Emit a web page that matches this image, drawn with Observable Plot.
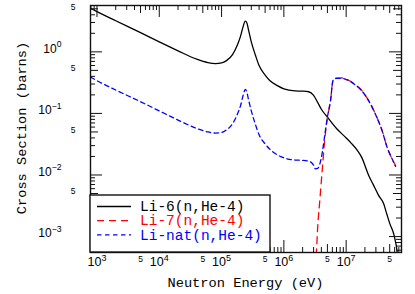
<!DOCTYPE html>
<html><head><meta charset="utf-8">
<script src="https://cdn.jsdelivr.net/npm/d3@7"></script>
<script src="https://cdn.jsdelivr.net/npm/@observablehq/plot@0.6"></script>
<style>
html,body{margin:0;padding:0;background:#fff;}
#chart{position:relative;width:415px;height:294px;overflow:hidden;}
</style></head><body><div id="chart"></div>
<script>
// ---- data ----
const li6Energy = [787, 1000, 2000, 5000, 1e4, 2e4, 4e4, 6e4, 8e4, 1e5, 1.2e5, 1.5e5, 1.8e5, 2e5, 2.2e5, 2.4e5, 2.55e5, 2.7e5, 3e5, 3.5e5, 4e5, 5e5, 6e5, 8e5, 1e6, 1.5e6, 2e6, 2.5e6, 3e6, 3.5e6, 4e6, 5e6, 7e6, 1e7, 1.2e7, 1.5e7, 1.8e7, 2e7, 2.3e7, 2.7e7, 3.3e7, 4e7, 4.5e7, 5e7, 5.8e7, 6.6e7, 7e7];
const li6Sigma  = [5.1, 4.5, 3.2, 2.05, 1.45, 1.04, 0.76, 0.67, 0.645, 0.66, 0.72, 0.9, 1.3, 1.75, 2.5, 3.15, 2.95, 2.3, 1.45, 0.88, 0.6, 0.42, 0.34, 0.28, 0.25, 0.232, 0.23, 0.225, 0.196, 0.15, 0.117, 0.087, 0.057, 0.04, 0.033, 0.0254, 0.0188, 0.0143, 0.0098, 0.0071, 0.0047, 0.0034, 0.0023, 0.00164, 0.0011, 0.00055, 0.0003];

const li7Energy = [3.1e6, 3.33e6, 3.5e6, 3.77e6, 4.16e6, 4.5e6, 4.95e6, 5.6e6, 6.2e6, 7e6, 8.6e6, 1e7, 1.17e7, 1.4e7, 1.7e7, 2e7, 2.3e7, 2.95e7, 3.78e7, 4.55e7, 5.5e7, 6.2e7];
const li7Sigma  = [0.0002, 0.00055, 0.0015, 0.0038, 0.0133, 0.035, 0.08, 0.16, 0.36, 0.375, 0.378, 0.36, 0.333, 0.29, 0.25, 0.2, 0.161, 0.098, 0.0525, 0.0281, 0.018, 0.0142];

const natEnergy = [787, 1000, 2000, 5000, 1e4, 2e4, 4e4, 6e4, 8e4, 1e5, 1.2e5, 1.5e5, 1.8e5, 2e5, 2.2e5, 2.4e5, 2.55e5, 2.7e5, 3e5, 3.5e5, 4e5, 5e5, 6e5, 8e5, 1e6, 1.5e6, 2e6, 2.5e6, 3e6, 3.2e6, 3.5e6, 3.77e6, 4.16e6, 4.5e6, 4.95e6, 5.6e6, 6.2e6, 7e6, 8.6e6, 1e7, 1.17e7, 1.4e7, 1.7e7, 2e7, 2.3e7, 2.95e7, 3.78e7, 4.55e7, 5.5e7, 6.2e7];
const natSigma  = [0.39, 0.34, 0.24, 0.155, 0.11, 0.078, 0.057, 0.05, 0.048, 0.049, 0.054, 0.068, 0.098, 0.13, 0.19, 0.245, 0.22, 0.17, 0.11, 0.066, 0.045, 0.032, 0.026, 0.021, 0.019, 0.0175, 0.0173, 0.0168, 0.0145, 0.0126, 0.0128, 0.015, 0.024, 0.042, 0.082, 0.16, 0.35, 0.37, 0.372, 0.355, 0.33, 0.29, 0.245, 0.2, 0.16, 0.097, 0.052, 0.028, 0.018, 0.0138];

const seriesNames  = ["Li-6(n,He-4)", "Li-7(n,He-4)", "Li-nat(n,He-4)"];
const seriesColors = ["#000000", "#ff0000", "#0000ff"];
const seriesDash   = [null, "7,5", "4.5,3.5"];

const xTitle = "Neutron Energy (eV)";
const yTitle = "Cross Section (barns)";
const xDomain = [787, 7.73e7];
const yDomain = [5.51e-4, 5.66];
const xMajorTicks = [1e3, 1e4, 1e5, 1e6, 1e7];
const xFiveTicks  = [5e3, 5e4, 5e5, 5e6, 5e7];
const yMajorTicks = [1, 0.1, 0.01, 0.001];
const yFiveTicks  = [5, 0.5, 0.05, 0.005];
const decades = [1e-4, 1e-3, 1e-2, 1e-1, 1, 1e1, 1e2, 1e3, 1e4, 1e5, 1e6, 1e7];
const minorMult = [2, 3, 4, 6, 7, 8, 9];
const fiveLabel = "5";

// ---- layout ----
const W = 415, H = 294;
const M = {left: 90, right: 14, top: 5, bottom: 42};
const innerW = W - M.left - M.right, innerH = H - M.top - M.bottom;

// ---- build ----
const toRows = (E, S) => E.map((e, i) => ({e, s: S[i]}));
const rows = [toRows(li6Energy, li6Sigma), toRows(li7Energy, li7Sigma), toRows(natEnergy, natSigma)];
const inside = (d, v) => v >= d[0] && v <= d[1];
const xMinor = decades.flatMap(d => minorMult.map(m => m * d)).filter(v => inside(xDomain, v));
const yMinor = decades.flatMap(d => minorMult.map(m => m * d)).filter(v => inside(yDomain, v));

const sansFont = "'Liberation Sans', Arial, Helvetica, sans-serif";
const monoFont = "'Liberation Mono', 'Courier New', Courier, monospace";
const expFormat = d => "10^" + Math.round(Math.log10(d));

const lineMarks = rows.map((r, i) => Plot.line(r, {
  x: "e", y: "s", stroke: seriesColors[i], strokeWidth: 1.3,
  strokeDasharray: seriesDash[i], curve: "monotone-x", clip: true
}));

// inward ticks on all four sides
const tickMarks = [];
for (const [data, size] of [[xMajorTicks, 12], [xFiveTicks, 8], [xMinor, 5]]) {
  tickMarks.push(Plot.tickX(data, {x: d => d, insetTop: innerH - size, stroke: "#111"}));
  tickMarks.push(Plot.tickX(data, {x: d => d, insetBottom: innerH - size, stroke: "#111"}));
}
for (const [data, size] of [[yMajorTicks, 12], [yFiveTicks, 8], [yMinor, 5]]) {
  tickMarks.push(Plot.tickY(data, {y: d => d, insetRight: innerW - size, stroke: "#111"}));
  tickMarks.push(Plot.tickY(data, {y: d => d, insetLeft: innerW - size, stroke: "#111"}));
}

// tick labels
const labelMarks = [
  Plot.text(xMajorTicks, {x: d => d, text: expFormat, frameAnchor: "bottom", lineAnchor: "top", dy: 5, fontSize: 12.5, fontFamily: sansFont, fill: "black"}),
  Plot.text(xFiveTicks, {x: d => d, text: () => fiveLabel, frameAnchor: "bottom", lineAnchor: "top", dy: 3, fontSize: 8.5, fontFamily: sansFont, fill: "black"}),
  Plot.text(yMajorTicks, {y: d => d, text: expFormat, frameAnchor: "left", textAnchor: "end", dx: -29, dy: -3, fontSize: 12, fontFamily: sansFont, fill: "black"}),
  Plot.text(yFiveTicks, {y: d => d, text: () => fiveLabel, frameAnchor: "left", textAnchor: "end", dx: -15, dy: -2, fontSize: 8.5, fontFamily: sansFont, fill: "black"})
];

const chart = Plot.plot({
  width: W, height: H,
  marginLeft: M.left, marginRight: M.right, marginTop: M.top, marginBottom: M.bottom,
  x: {type: "log", domain: xDomain, axis: null},
  y: {type: "log", domain: yDomain, axis: null},
  style: {background: "white", color: "black", fontFamily: sansFont},
  marks: [...lineMarks, ...tickMarks, ...labelMarks, Plot.frame({stroke: "#111", strokeWidth: 1.4})]
});

const svg = d3.select(chart);
// superscript exponents
svg.selectAll("text").each(function () {
  const m = /^10\^(-?\d+)$/.exec(this.textContent);
  if (!m) return;
  const t = d3.select(this);
  t.text(null);
  t.append("tspan").text("10");
  t.append("tspan").attr("font-size", "0.72em").attr("dy", "-0.62em").text(m[1].replace("-", "\u2212"));
});

// axis titles
svg.append("text").attr("transform", "translate(21,128) rotate(-90)").attr("text-anchor", "middle")
  .attr("dy", "0.35em").attr("font-family", monoFont).attr("font-size", 13.7).attr("fill", "black").text(yTitle);
svg.append("text").attr("x", M.left + innerW / 2).attr("y", 287).attr("text-anchor", "middle")
  .attr("font-family", monoFont).attr("font-size", 13.7).attr("fill", "black").text(xTitle);

// legend
const lg = svg.append("g");
lg.append("rect").attr("x", 90).attr("y", 195).attr("width", 180).attr("height", 57)
  .attr("fill", "white").attr("stroke", "#111").attr("stroke-width", 1.4);
seriesNames.forEach((name, i) => {
  const y = 206.5 + i * 14.2;
  lg.append("line").attr("x1", 97).attr("x2", 131).attr("y1", y).attr("y2", y)
    .attr("stroke", seriesColors[i]).attr("stroke-width", 1.3).attr("stroke-dasharray", seriesDash[i]);
  lg.append("text").attr("x", 140).attr("y", y).attr("dy", "0.33em").attr("text-anchor", "start")
    .attr("font-family", monoFont).attr("font-size", 14.5).attr("fill", seriesColors[i]).text(name);
});

document.getElementById("chart").appendChild(chart);
</script>
</body></html>
